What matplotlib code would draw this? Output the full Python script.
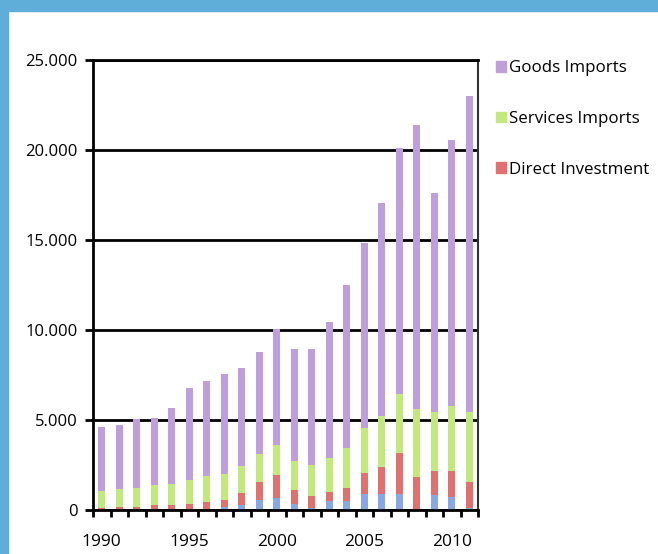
import numpy as np
import matplotlib

matplotlib.use("Agg")
import matplotlib.pyplot as plt
from matplotlib.patches import Patch, Rectangle

years = list(range(1990, 2012))

# stacked segments, bottom to top
other = [0, 0, 0, 56, 56, 56, 56, 149, 260, 539, 650,
         316, 93, 483, 483, 873, 873, 873, 0, 817, 706, 93]
direct_inv = [93, 149, 149, 204, 204, 260, 371, 390, 669, 1002, 1281,
              780, 668, 501, 724, 1170, 1504, 2284, 1820, 1337, 1448, 1448]
services = [947, 1001, 1058, 1114, 1170, 1337, 1448, 1448, 1504, 1560, 1672,
            1615, 1727, 1894, 2228, 2507, 2841, 3287, 3788, 3287, 3621, 3900]
goods = [3580, 3580, 3863, 3746, 4250, 5147, 5315, 5588, 5477, 5699, 6477,
         6259, 6482, 7542, 9045, 10270, 11822, 13666, 15782, 12159, 14775, 17559]

legend_labels = ["Goods Imports", "Services Imports", "Direct Investment"]
y_ticks = [0, 5000, 10000, 15000, 20000, 25000]
y_tick_labels = ["0", "5.000", "10.000", "15.000", "20.000", "25.000"]
x_label_years = [1990, 1995, 2000, 2005, 2010]

COLORS = {"other": "#87A7E5", "direct": "#E0716E",
          "services": "#C3E87D", "goods": "#BE9FDB"}

plt.rcParams["font.family"] = ["Open Sans", "DejaVu Sans"]

fig = plt.figure(figsize=(6.58, 5.54), dpi=100)
W, H = 658, 554
ax = fig.add_axes([93 / W, 1 - 510 / H, (478 - 93) / W, (510 - 60) / H])

# blue frame on top and left
fig.patches.append(Rectangle((0, 1 - 11 / H), 1, 11 / H, transform=fig.transFigure,
                             color="#5FAED9", zorder=0))
fig.patches.append(Rectangle((0, 0), 8 / W, 1, transform=fig.transFigure,
                             color="#5FAED9", zorder=0))

x = np.arange(len(years))
bottom = np.zeros(len(years))
for key, vals in (("other", other), ("direct", direct_inv),
                  ("services", services), ("goods", goods)):
    ax.bar(x, vals, width=0.4, bottom=bottom, color=COLORS[key], zorder=2)
    bottom += np.array(vals)

ax.set_xlim(-0.5, len(years) - 0.5)
ax.set_ylim(0, 25000)
ax.set_yticks(y_ticks)
ax.set_yticklabels(y_tick_labels, fontsize=12)
ax.yaxis.grid(True, color="black", lw=2, zorder=1)
ax.tick_params(axis="y", length=6, width=2, pad=5)

ax.set_xticks([years.index(y) for y in x_label_years])
ax.set_xticklabels([str(y) for y in x_label_years], fontsize=12.5)
ax.set_xticks(np.arange(len(years) + 1) - 0.5, minor=True)
ax.tick_params(axis="x", which="major", length=0, pad=17)
ax.tick_params(axis="x", which="minor", length=5, width=2)

for side in ("left", "bottom", "top"):
    ax.spines[side].set_linewidth(2)
ax.spines["right"].set_linewidth(1.5)
ax.spines["right"].set_color("#333333")

handles = [Patch(color=COLORS["goods"]), Patch(color=COLORS["services"]),
           Patch(color=COLORS["direct"])]
fig.legend(handles, legend_labels, loc="upper left",
           bbox_to_anchor=(481 / W, 1 - 45 / H), frameon=False, fontsize=12.2,
           handlelength=0.6, handleheight=0.6, handletextpad=0.15,
           labelspacing=2.05)

fig.savefig("out.png", dpi=100)
